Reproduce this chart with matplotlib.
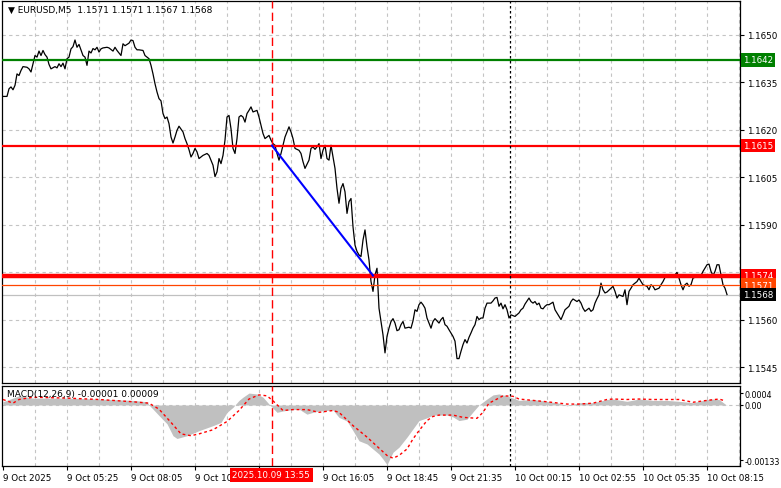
import matplotlib
matplotlib.use("Agg")
import matplotlib.pyplot as plt
import matplotlib.transforms as mtransforms

plt.rcParams['font.family'] = 'DejaVu Sans'
plt.rcParams['font.size'] = 6.3

# EURUSD M5 closes (bar index, close)
price_bars = [0, 2, 3, 4, 5, 6, 7, 8, 9, 10, 12, 13, 14, 15, 16, 17, 18, 19, 20, 21,
              22, 23, 24, 26, 27, 28, 29, 30, 31, 32, 33, 34, 35, 36, 37, 38, 39, 40, 41, 42,
              43, 44, 45, 46, 47, 48, 49, 50, 52, 53, 55, 56, 57, 59, 60, 61, 63, 64, 65, 66,
              67, 68, 70, 71, 73, 74, 75, 76, 77, 78, 79, 80, 81, 82, 83, 84, 85, 86, 87, 88,
              90, 91, 92, 93, 94, 95, 96, 97, 98, 100, 102, 103, 105, 106, 107, 108, 109, 110, 111, 112,
              113, 114, 115, 116, 117, 118, 119, 120, 121, 122, 123, 124, 125, 127, 128, 129, 130, 131, 133, 134,
              135, 136, 137, 138, 139, 140, 141, 142, 143, 144, 145, 146, 148, 149, 150, 151, 153, 154, 155, 156,
              157, 158, 159, 160, 161, 162, 163, 164, 165, 166, 167, 168, 169, 170, 171, 172, 173, 174, 175, 176,
              177, 178, 179, 180, 181, 182, 183, 184, 185, 186, 187, 188, 189, 190, 191, 192, 193, 194, 195, 196,
              197, 198, 199, 200, 201, 203, 204, 205, 206, 207, 208, 209, 210, 211, 212, 214, 215, 216, 218, 219,
              220, 221, 222, 223, 225, 226, 227, 228, 229, 230, 231, 232, 233, 234, 235, 236, 237, 238, 239, 240,
              241, 242, 244, 245, 246, 247, 248, 249, 250, 251, 252, 253, 254, 256, 258, 259, 260, 261, 263, 264,
              265, 266, 267, 268, 269, 270, 271, 272, 273, 275, 276, 278, 279, 280, 281, 283, 284, 285, 287, 288,
              289, 290, 291, 293, 294, 295, 296, 297, 298, 299, 300, 301, 302, 304, 305, 306, 307, 308, 310, 311,
              312, 313, 314, 315, 317, 318, 319, 320, 322, 323, 324, 325, 326, 328, 329, 330, 331, 333, 334, 336,
              337, 338, 339, 340, 341, 342, 343, 344, 345, 347, 348, 349, 350, 352, 353, 354, 355, 356, 357, 358,
              359, 360, 361, 362]
price_close = [1.16305, 1.16305, 1.16329, 1.16335, 1.16326, 1.16340, 1.16376, 1.16371, 1.16387, 1.16399,
               1.16397, 1.16392, 1.16382, 1.16408, 1.16434, 1.16429, 1.16448, 1.16434, 1.16450, 1.16437,
               1.16429, 1.16406, 1.16392, 1.16399, 1.16395, 1.16408, 1.16399, 1.16410, 1.16392, 1.16424,
               1.16429, 1.16455, 1.16462, 1.16483, 1.16460, 1.16469, 1.16452, 1.16434, 1.16429, 1.16403,
               1.16448, 1.16442, 1.16456, 1.16452, 1.16460, 1.16445, 1.16455, 1.16458, 1.16460, 1.16458,
               1.16448, 1.16460, 1.16450, 1.16434, 1.16471, 1.16465, 1.16473, 1.16483, 1.16481, 1.16460,
               1.16452, 1.16452, 1.16450, 1.16434, 1.16424, 1.16403, 1.16376, 1.16345, 1.16319, 1.16298,
               1.16291, 1.16251, 1.16235, 1.16240, 1.16219, 1.16177, 1.16158, 1.16177, 1.16198, 1.16211,
               1.16193, 1.16172, 1.16156, 1.16137, 1.16114, 1.16125, 1.16141, 1.16130, 1.16109, 1.16119,
               1.16125, 1.16119, 1.16088, 1.16052, 1.16067, 1.16109, 1.16093, 1.16119, 1.16167, 1.16240,
               1.16245, 1.16203, 1.16141, 1.16125, 1.16172, 1.16240, 1.16245, 1.16240, 1.16224, 1.16251,
               1.16261, 1.16272, 1.16256, 1.16261, 1.16240, 1.16214, 1.16188, 1.16172, 1.16182, 1.16167,
               1.16156, 1.16151, 1.16125, 1.16104, 1.16125, 1.16151, 1.16177, 1.16193, 1.16209, 1.16193,
               1.16172, 1.16141, 1.16135, 1.16125, 1.16099, 1.16078, 1.16104, 1.16141, 1.16146, 1.16138,
               1.16146, 1.16156, 1.16109, 1.16135, 1.16151, 1.16109, 1.16104, 1.16151, 1.16114, 1.16078,
               1.16015, 1.15968, 1.16015, 1.16030, 1.16004, 1.15936, 1.15973, 1.15983, 1.15894, 1.15836,
               1.15816, 1.15805, 1.15800, 1.15852, 1.15884, 1.15831, 1.15789, 1.15721, 1.15690, 1.15742,
               1.15763, 1.15637, 1.15595, 1.15553, 1.15496, 1.15548, 1.15574, 1.15595, 1.15604, 1.15590,
               1.15566, 1.15569, 1.15585, 1.15595, 1.15574, 1.15577, 1.15574, 1.15597, 1.15632, 1.15627,
               1.15648, 1.15656, 1.15648, 1.15637, 1.15606, 1.15574, 1.15595, 1.15604, 1.15590, 1.15601,
               1.15608, 1.15585, 1.15580, 1.15569, 1.15548, 1.15533, 1.15478, 1.15478, 1.15501, 1.15522,
               1.15538, 1.15527, 1.15545, 1.15559, 1.15574, 1.15585, 1.15611, 1.15601, 1.15606, 1.15606,
               1.15637, 1.15653, 1.15653, 1.15660, 1.15669, 1.15671, 1.15643, 1.15653, 1.15635, 1.15648,
               1.15632, 1.15606, 1.15616, 1.15611, 1.15622, 1.15632, 1.15637, 1.15650, 1.15669, 1.15658,
               1.15653, 1.15658, 1.15648, 1.15653, 1.15637, 1.15635, 1.15643, 1.15648, 1.15648, 1.15656,
               1.15632, 1.15611, 1.15601, 1.15616, 1.15632, 1.15643, 1.15658, 1.15666, 1.15658, 1.15663,
               1.15653, 1.15637, 1.15627, 1.15637, 1.15627, 1.15632, 1.15653, 1.15667, 1.15679, 1.15716,
               1.15695, 1.15685, 1.15688, 1.15700, 1.15706, 1.15690, 1.15669, 1.15679, 1.15674, 1.15695,
               1.15648, 1.15690, 1.15700, 1.15711, 1.15721, 1.15732, 1.15721, 1.15711, 1.15706, 1.15695,
               1.15711, 1.15706, 1.15695, 1.15700, 1.15711, 1.15721, 1.15734, 1.15740, 1.15740, 1.15742,
               1.15750, 1.15732, 1.15711, 1.15695, 1.15711, 1.15716, 1.15706, 1.15711, 1.15732, 1.15737,
               1.15742, 1.15740, 1.15753, 1.15774, 1.15776, 1.15753, 1.15740, 1.15753, 1.15774, 1.15774,
               1.15742, 1.15711, 1.15700, 1.15680]

# MACD(12,26,9) main line (histogram)
macd_bars = [0, 8, 15, 32, 48, 65, 72, 73, 75, 78, 82, 85, 87, 92, 98, 105, 109, 112, 115, 118,
             120, 123, 127, 130, 133, 137, 140, 143, 148, 152, 155, 158, 165, 168, 172, 175, 178, 182, 185, 188,
             190, 192, 195, 198, 202, 205, 208, 212, 215, 222, 225, 228, 232, 235, 238, 242, 245, 248, 252, 255,
             258, 265, 272, 278, 282, 288, 295, 302, 305, 312, 318, 325, 332, 338, 345, 352, 355, 358, 362]
macd_vals = [0.00007, 0.00020, 0.00015, 0.00015, 0.00013, 0.00010, 0.00007, 0.0, -0.00009, -0.00023,
             -0.00041, -0.00067, -0.00073, -0.00067, -0.00056, -0.00045, -0.00038, -0.00016, -0.00005, 0.00010,
             0.00017, 0.00026, 0.00024, 0.00017, 0.00002, -0.00016, -0.00013, -0.00011, -0.00009, -0.00020,
             -0.00016, -0.00013, -0.00011, -0.00027, -0.00035, -0.00056, -0.00078, -0.00085, -0.00096, -0.00107,
             -0.00118, -0.00130, -0.00103, -0.00092, -0.00070, -0.00052, -0.00034, -0.00028, -0.00022, -0.00022,
             -0.00026, -0.00034, -0.00031, -0.00015, 0.0, 0.00013, 0.00022, 0.00024, 0.00020, 0.00015,
             0.00010, 0.00012, 0.00008, 0.00004, -0.00002, 0.00005, 0.00005, 0.00012, 0.00013, 0.00008,
             0.00013, 0.00010, 0.00010, 0.00008, 0.00005, 0.00012, 0.00013, 0.00012, -0.00001]

# signal line
sig_bars = [0, 5, 8, 15, 32, 48, 65, 73, 78, 84, 89, 94, 98, 105, 112, 118, 123, 128, 132, 135,
            140, 145, 152, 158, 165, 168, 175, 182, 188, 192, 195, 198, 202, 205, 208, 212, 215, 218, 225, 230,
            237, 240, 243, 247, 250, 255, 258, 265, 272, 278, 282, 288, 295, 302, 305, 312, 318, 325, 332, 338,
            345, 352, 358, 361]
sig_vals = [0.00012, 0.00004, 0.00012, 0.00017, 0.00015, 0.00012, 0.00007, 0.00004, -0.00009, -0.00038,
            -0.00063, -0.00067, -0.00063, -0.00054, -0.00036, -0.00012, 0.00013, 0.00022, 0.00020, 0.00009,
            -0.00012, -0.00010, -0.00010, -0.00016, -0.00012, -0.00016, -0.00045, -0.00070, -0.00094, -0.00110,
            -0.00116, -0.00110, -0.00096, -0.00074, -0.00056, -0.00034, -0.00025, -0.00022, -0.00022, -0.00027,
            -0.00029, -0.00016, 0.00004, 0.00013, 0.00020, 0.00019, 0.00013, 0.00010, 0.00007, 0.00004,
            0.00002, 0.00002, 0.00004, 0.00012, 0.00013, 0.00012, 0.00013, 0.00012, 0.00012, 0.00012,
            0.00006, 0.00010, 0.00013, 0.00009]

tick_bars = [0, 32, 64, 96, 128, 160, 192, 224, 256, 288, 320, 352]
tick_labels = ['9 Oct 2025', '9 Oct 05:25', '9 Oct 08:05', '9 Oct 10:45', '9 Oct 13:25',
               '9 Oct 16:05', '9 Oct 18:45', '9 Oct 21:35', '10 Oct 00:15', '10 Oct 02:55',
               '10 Oct 05:35', '10 Oct 08:15']
price_ticks = [1.1545, 1.1560, 1.1590, 1.1605, 1.1620, 1.1635, 1.1650]
grid_prices = [1.1545, 1.1560, 1.1575, 1.1590, 1.1605, 1.1620, 1.1635, 1.1650]

# levels: (price, line colour, width, label background)
levels = [(1.1642, '#008000', 1.6, '#008000'),
          (1.1615, '#ff0000', 1.6, '#ff0000'),
          (1.1574, '#ff0000', 3.2, '#ff0000')]
ask_price, bid_price = 1.1571, 1.1568
trend = ([134.5, 185], [1.1615, 1.1574])
cross_bar = 134.5
day_bar = 253.3

W, H = 781, 489
fig = plt.figure(figsize=(W / 100, H / 100), dpi=100)


def box(l, t, r, b):
    return [l / W, 1 - b / H, (r - l) / W, (b - t) / H]


ax = fig.add_axes(box(2, 2, 740, 384))
axm = fig.add_axes(box(2, 386.5, 740, 467))

grid_kw = dict(color='#c4c4c4', lw=0.8, ls=(0, (3, 3)), zorder=0)
for a in (ax, axm):
    a.set_xlim(-0.5, 368.5)
    for g in range(16, 369, 16):
        a.axvline(g, **grid_kw)
    for s in a.spines.values():
        s.set_color('black')
        s.set_linewidth(0.9)
    a.axvline(cross_bar, color='red', lw=1, ls=(0, (6, 3)), zorder=4)
    a.axvline(day_bar, color='black', lw=0.9, ls=(0, (2, 2)), zorder=4)

# main price panel
ax.set_ylim(1.15401, 1.16606)
for p in grid_prices:
    ax.axhline(p, **grid_kw)
ax.axhline(bid_price, color='#c0c0c0', lw=0.9, zorder=1)
ax.plot(price_bars, price_close, color='black', lw=0.9, zorder=2)
ax.axhline(ask_price, color='#ff4500', lw=0.9, zorder=3)
for p, c, w, _ in levels:
    ax.axhline(p, color=c, lw=w, zorder=3)
ax.plot(trend[0], trend[1], color='#0000ff', lw=1.5, zorder=4)

ax.set_xticks([])
ax.yaxis.tick_right()
ax.set_yticks(price_ticks)
ax.set_yticklabels(['%.4f' % p for p in price_ticks])
ax.tick_params(axis='y', direction='out', length=3, width=0.8, pad=2)

tr = mtransforms.blended_transform_factory(ax.transAxes, ax.transData)
labels = [(p, bg) for p, _, _, bg in levels] + [(ask_price, '#ff4500'), (bid_price, 'black')]
for p, bg in labels:
    ax.text(1.004, p, '%.4f' % p, transform=tr, ha='left', va='center', color='white',
            zorder=6, clip_on=False,
            bbox=dict(facecolor=bg, edgecolor='none', boxstyle='square,pad=0.25'))

fig.text(8 / W, 1 - 10 / H, '\u25bc EURUSD,M5  1.1571 1.1571 1.1567 1.1568',
         ha='left', va='center', fontsize=6.5)

# MACD panel
axm.set_ylim(-0.00133, 0.000425)
axm.axhline(0, color='#c4c4c4', lw=0.8, ls=(0, (3, 3)), zorder=0)
axm.fill_between(macd_bars, macd_vals, 0, color='#c0c0c0', lw=0, zorder=1)
axm.plot(sig_bars, sig_vals, color='red', lw=1, ls=(0, (2, 2)), zorder=3)
axm.yaxis.tick_right()
axm.set_yticks([0.00026, 0.0, -0.0012])
axm.set_yticklabels(['0.0004', '0.00', '-0.00133'], fontsize=5.8)
axm.tick_params(axis='y', direction='out', length=2, width=0.8, pad=1)
axm.set_xticks(tick_bars)
axm.set_xticklabels(tick_labels, ha='left')
axm.tick_params(axis='x', direction='out', length=3, width=0.8, pad=2)
fig.text(7 / W, 1 - 395 / H, 'MACD(12,26,9) -0.00001 0.00009', ha='left', va='center',
         fontsize=6.5)

# crosshair time label covers the ticks beneath it, as in the terminal
fig.text(271 / W, 1 - 476 / H, '2025.10.09 13:55', ha='center', va='center', color='white',
         zorder=10, bbox=dict(facecolor='red', edgecolor='none', boxstyle='square,pad=0.3'))

fig.savefig('out.png', dpi=100)
